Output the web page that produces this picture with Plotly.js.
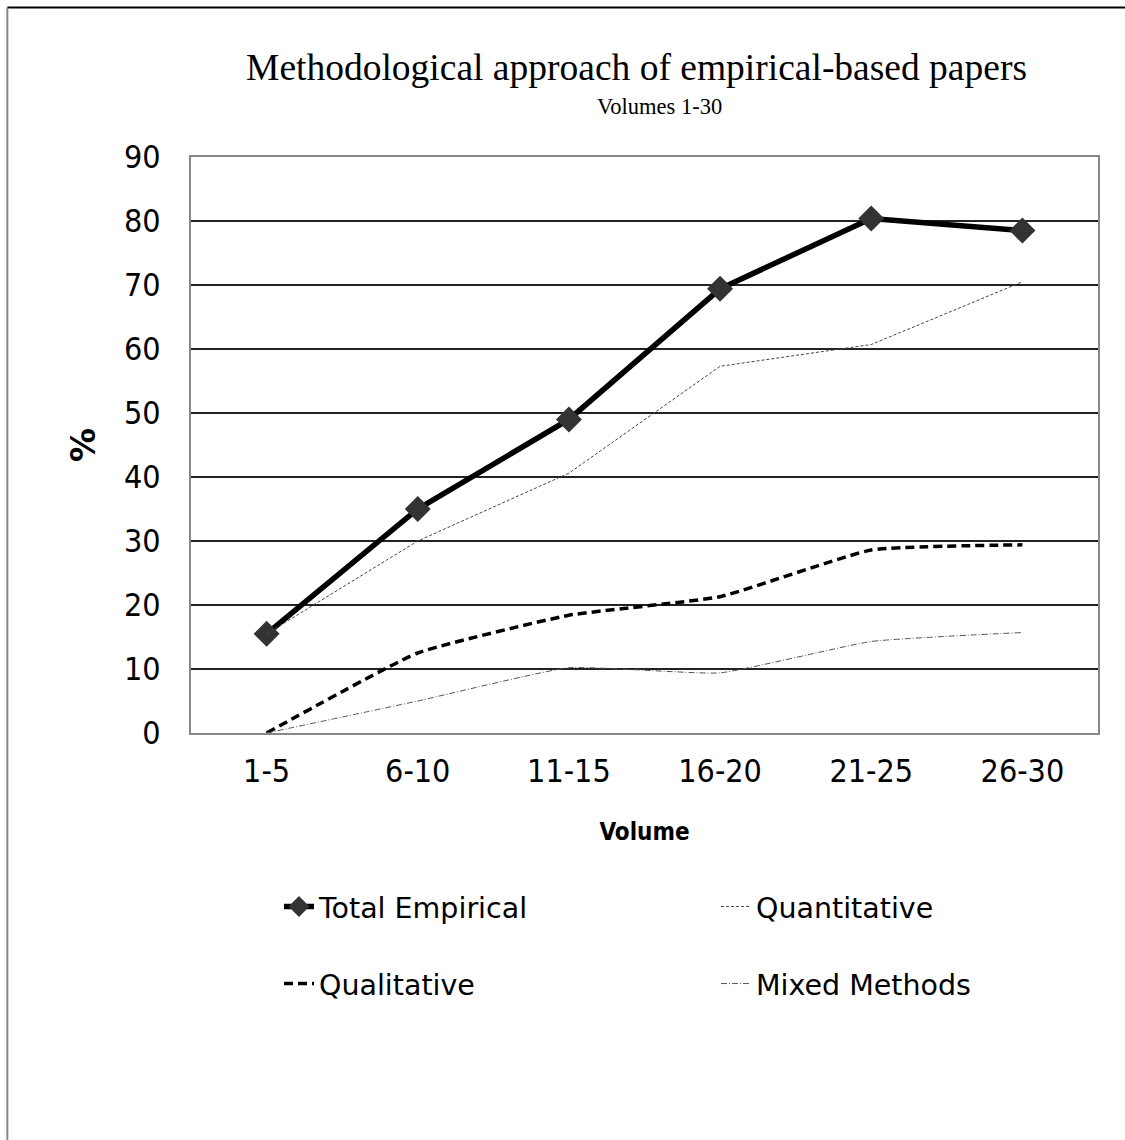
<!DOCTYPE html>
<html>
<head>
<meta charset="utf-8">
<script src="https://cdn.plot.ly/plotly-3.0.1.min.js"></script>
<style>html,body{margin:0;padding:0;background:#fff;}#chart{width:1125px;height:1140px;}</style>
</head>
<body>
<div id="chart"></div>
<script>
const volumes = ["1-5", "6-10", "11-15", "16-20", "21-25", "26-30"];
const totalEmpirical = [15.5, 35.0, 49.0, 69.4, 80.4, 78.5];
const quantitative = [15.5, 30.0, 40.6, 57.3, 60.7, 70.5];
const qualitative = [0, 12.5, 18.4, 21.3, 28.6, 29.4];
const mixedMethods = [0, 5.0, 10.2, 9.4, 14.3, 15.7];
const yTicks = [0, 10, 20, 30, 40, 50, 60, 70, 80, 90];

const cond = "'DejaVu Sans Condensed', 'DejaVu Sans', sans-serif";
const sans = "'DejaVu Sans', Verdana, sans-serif";
const serif = "'Liberation Serif', 'Times New Roman', serif";

const traces = [
  {x: volumes, y: totalEmpirical, name: "Total Empirical", type: "scatter", mode: "lines+markers",
   line: {color: "#000", width: 5.5}, marker: {symbol: "diamond", size: 20, color: "#333"}, legend: "legend"},
  {x: volumes, y: quantitative, name: "Quantitative", type: "scatter", mode: "lines",
   line: {color: "#444", width: 1, dash: "3px,2px"}, legend: "legend2"},
  {x: volumes, y: qualitative, name: "Qualitative", type: "scatter", mode: "lines",
   line: {color: "#000", width: 3.5, dash: "9px,5px", shape: "spline", smoothing: 0.4}, legend: "legend3"},
  {x: volumes, y: mixedMethods, name: "Mixed Methods", type: "scatter", mode: "lines",
   line: {color: "#555", width: 1, dash: "6px,2px,1px,2px", shape: "spline", smoothing: 0.4}, legend: "legend4"}
];

function legendAt(x, y) {
  return {orientation: "h", xanchor: "left", yanchor: "middle", x: x, y: y,
    font: {family: sans, size: 28.5, color: "#000"}, bgcolor: "rgba(0,0,0,0)"};
}

const layout = {
  width: 1125, height: 1140,
  margin: {l: 191, r: 27, t: 157, b: 407},
  paper_bgcolor: "#fff", plot_bgcolor: "#fff",
  font: {family: cond, color: "#000"},
  title: {text: "Methodological approach of empirical-based papers",
    font: {family: serif, size: 37.5, color: "#000"},
    x: 0.5658, xanchor: "center", xref: "container", y: 0.9415, yanchor: "middle", yref: "container"},
  xaxis: {type: "category", range: [-0.5, 5.5], tickfont: {family: cond, size: 32, color: "#000"},
    showgrid: false, showline: true, linecolor: "#888", linewidth: 2, mirror: true, ticks: "",
    ticklabelstandoff: 9,
    title: {text: "<b>Volume</b>", font: {family: cond, size: 24, color: "#000"}, standoff: 34}},
  yaxis: {range: [0, 90], tickvals: yTicks, ticktext: yTicks.map(String),
    tickfont: {family: cond, size: 32, color: "#000"},
    showgrid: true, gridcolor: "#222", gridwidth: 1.5, zeroline: true, zerolinecolor: "#222", zerolinewidth: 2,
    showline: true, linecolor: "#888", linewidth: 2, mirror: true, ticks: "", ticklabelstandoff: 22,
    title: {text: "<b>%</b>", font: {family: sans, size: 34, color: "#000"}, standoff: 18}},
  legend: legendAt(0.097, -0.302),
  legend2: legendAt(0.5788, -0.302),
  legend3: legendAt(0.097, -0.4358),
  legend4: legendAt(0.5788, -0.4358),
  annotations: [
    {text: "Volumes 1-30", xref: "paper", yref: "paper", x: 0.516, y: 1.087, xanchor: "center", yanchor: "middle",
     showarrow: false, font: {family: serif, size: 22.5, color: "#000"}}
  ],
  shapes: [
    {type: "line", xref: "paper", yref: "paper", x0: -0.2025, x1: 1.2, y0: 1.2595, y1: 1.2595, line: {color: "#000", width: 2}},
    {type: "line", xref: "paper", yref: "paper", x0: -0.2025, x1: -0.2025, y0: 1.2595, y1: -1.0, line: {color: "#888", width: 2}}
  ],
  showlegend: true
};

Plotly.newPlot("chart", traces, layout, {displayModeBar: false, staticPlot: true});
</script>
</body>
</html>
